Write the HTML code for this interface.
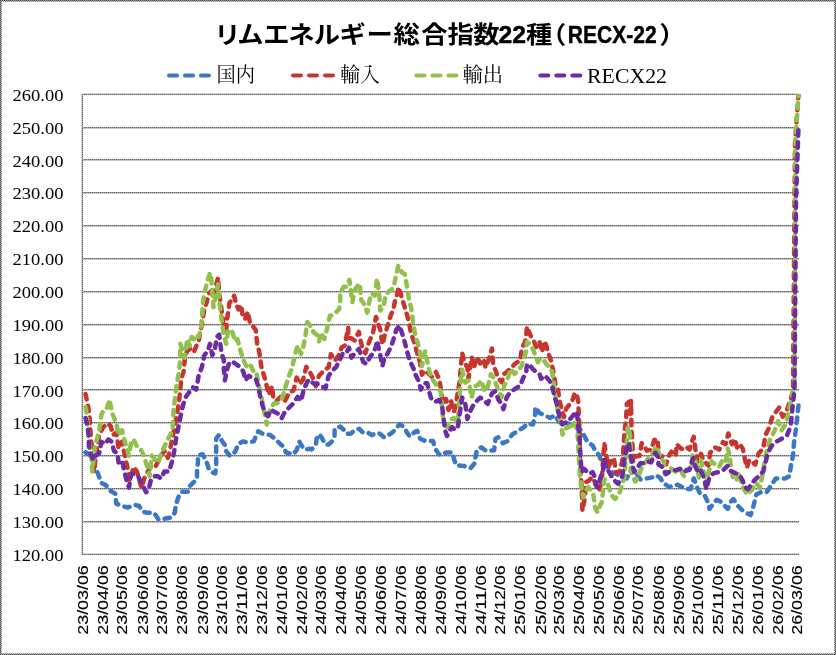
<!DOCTYPE html>
<html><head><meta charset="utf-8"><title>RECX-22</title><style>
html,body{margin:0;padding:0;background:#fff;}
svg{display:block;}
.g{stroke:#8a8a8a;stroke-width:1;}
.pb{fill:none;stroke:#777;stroke-width:1;}
.ob{fill:none;stroke:#7a7a7a;stroke-width:2;}
.yl{font-family:"Liberation Serif","Noto Serif CJK JP",serif;font-size:16.6px;text-anchor:end;fill:#000;}
.xl{font-family:"Liberation Sans","Noto Sans CJK JP",sans-serif;font-size:15.2px;text-anchor:end;fill:#000;stroke:#000;stroke-width:0.15px;}
.s{fill:none;stroke-width:4.5;stroke-dasharray:5.5 6.5;stroke-linecap:round;stroke-linejoin:round;}
.ld{stroke-width:4;stroke-dasharray:8 8;stroke-linecap:round;}
.lg{font-family:"Liberation Serif","Noto Serif CJK JP",serif;font-size:20px;fill:#000;}
.tt{font-family:"Liberation Sans","Noto Sans CJK JP",sans-serif;font-size:24px;font-weight:bold;fill:#000;}
.tl{font-family:"Liberation Sans","Noto Sans CJK JP",sans-serif;font-size:23.5px;font-weight:bold;fill:#000;stroke:#000;stroke-width:0.4px;}
</style></head><body>
<svg width="836" height="655" viewBox="0 0 836 655">
<rect x="0" y="0" width="836" height="655" fill="#fff"/>
<defs><pattern id="chk" width="2" height="2" patternUnits="userSpaceOnUse"><rect width="2" height="2" fill="#9a9a9a"/><rect width="1" height="1" fill="#4a4a4a"/><rect x="1" y="1" width="1" height="1" fill="#4a4a4a"/></pattern><pattern id="gdot" width="2" height="2" patternUnits="userSpaceOnUse"><rect width="2" height="2" fill="#a2a2a2"/><rect width="1" height="2" fill="#626262"/></pattern><pattern id="vdot" width="2" height="2" patternUnits="userSpaceOnUse"><rect width="2" height="2" fill="#a8a8a8"/><rect width="2" height="1" fill="#5a5a5a"/></pattern></defs>
<rect x="83" y="93" width="716" height="1" fill="#d6d6d6"/>
<rect x="83" y="94" width="716" height="1" fill="url(#gdot)"/>
<text x="63.5" y="100.80" class="yl" textLength="51" lengthAdjust="spacingAndGlyphs">260.00</text>
<rect x="83" y="127" width="716" height="1" fill="url(#gdot)"/>
<rect x="83" y="128" width="716" height="1" fill="#c8c8c8"/>
<text x="63.5" y="133.66" class="yl" textLength="51" lengthAdjust="spacingAndGlyphs">250.00</text>
<rect x="83" y="159" width="716" height="1" fill="url(#gdot)"/>
<rect x="83" y="160" width="716" height="1" fill="#c8c8c8"/>
<text x="63.5" y="166.51" class="yl" textLength="51" lengthAdjust="spacingAndGlyphs">240.00</text>
<rect x="83" y="192" width="716" height="1" fill="url(#gdot)"/>
<rect x="83" y="193" width="716" height="1" fill="#c8c8c8"/>
<text x="63.5" y="199.37" class="yl" textLength="51" lengthAdjust="spacingAndGlyphs">230.00</text>
<rect x="83" y="225" width="716" height="1" fill="url(#gdot)"/>
<rect x="83" y="226" width="716" height="1" fill="#c8c8c8"/>
<text x="63.5" y="232.23" class="yl" textLength="51" lengthAdjust="spacingAndGlyphs">220.00</text>
<rect x="83" y="258" width="716" height="1" fill="url(#gdot)"/>
<rect x="83" y="259" width="716" height="1" fill="#c8c8c8"/>
<text x="63.5" y="265.09" class="yl" textLength="51" lengthAdjust="spacingAndGlyphs">210.00</text>
<rect x="83" y="291" width="716" height="1" fill="url(#gdot)"/>
<rect x="83" y="292" width="716" height="1" fill="#c8c8c8"/>
<text x="63.5" y="297.94" class="yl" textLength="51" lengthAdjust="spacingAndGlyphs">200.00</text>
<rect x="83" y="324" width="716" height="1" fill="url(#gdot)"/>
<rect x="83" y="325" width="716" height="1" fill="#c8c8c8"/>
<text x="63.5" y="330.80" class="yl" textLength="51" lengthAdjust="spacingAndGlyphs">190.00</text>
<rect x="83" y="357" width="716" height="1" fill="url(#gdot)"/>
<rect x="83" y="358" width="716" height="1" fill="#c8c8c8"/>
<text x="63.5" y="363.66" class="yl" textLength="51" lengthAdjust="spacingAndGlyphs">180.00</text>
<rect x="83" y="389" width="716" height="1" fill="url(#gdot)"/>
<rect x="83" y="390" width="716" height="1" fill="#c8c8c8"/>
<text x="63.5" y="396.51" class="yl" textLength="51" lengthAdjust="spacingAndGlyphs">170.00</text>
<rect x="83" y="422" width="716" height="1" fill="url(#gdot)"/>
<rect x="83" y="423" width="716" height="1" fill="#c8c8c8"/>
<text x="63.5" y="429.37" class="yl" textLength="51" lengthAdjust="spacingAndGlyphs">160.00</text>
<rect x="83" y="455" width="716" height="1" fill="url(#gdot)"/>
<rect x="83" y="456" width="716" height="1" fill="#c8c8c8"/>
<text x="63.5" y="462.23" class="yl" textLength="51" lengthAdjust="spacingAndGlyphs">150.00</text>
<rect x="83" y="488" width="716" height="1" fill="url(#gdot)"/>
<rect x="83" y="489" width="716" height="1" fill="#c8c8c8"/>
<text x="63.5" y="495.09" class="yl" textLength="51" lengthAdjust="spacingAndGlyphs">140.00</text>
<rect x="83" y="521" width="716" height="1" fill="url(#gdot)"/>
<rect x="83" y="522" width="716" height="1" fill="#c8c8c8"/>
<text x="63.5" y="527.94" class="yl" textLength="51" lengthAdjust="spacingAndGlyphs">130.00</text>
<rect x="83" y="553" width="716" height="1" fill="#d6d6d6"/>
<rect x="83" y="554" width="716" height="1" fill="url(#gdot)"/>
<text x="63.5" y="560.80" class="yl" textLength="51" lengthAdjust="spacingAndGlyphs">120.00</text>
<rect x="81" y="94" width="1" height="461" fill="#d6d6d6"/><rect x="82" y="94" width="1" height="461" fill="url(#vdot)"/>
<text transform="translate(87.75,565.2) rotate(-90)" class="xl" textLength="69.5" lengthAdjust="spacingAndGlyphs">23/03/06</text>
<text transform="translate(107.94,565.2) rotate(-90)" class="xl" textLength="69.5" lengthAdjust="spacingAndGlyphs">23/04/06</text>
<text transform="translate(127.48,565.2) rotate(-90)" class="xl" textLength="69.5" lengthAdjust="spacingAndGlyphs">23/05/06</text>
<text transform="translate(147.67,565.2) rotate(-90)" class="xl" textLength="69.5" lengthAdjust="spacingAndGlyphs">23/06/06</text>
<text transform="translate(167.21,565.2) rotate(-90)" class="xl" textLength="69.5" lengthAdjust="spacingAndGlyphs">23/07/06</text>
<text transform="translate(187.40,565.2) rotate(-90)" class="xl" textLength="69.5" lengthAdjust="spacingAndGlyphs">23/08/06</text>
<text transform="translate(207.59,565.2) rotate(-90)" class="xl" textLength="69.5" lengthAdjust="spacingAndGlyphs">23/09/06</text>
<text transform="translate(227.13,565.2) rotate(-90)" class="xl" textLength="69.5" lengthAdjust="spacingAndGlyphs">23/10/06</text>
<text transform="translate(247.32,565.2) rotate(-90)" class="xl" textLength="69.5" lengthAdjust="spacingAndGlyphs">23/11/06</text>
<text transform="translate(266.86,565.2) rotate(-90)" class="xl" textLength="69.5" lengthAdjust="spacingAndGlyphs">23/12/06</text>
<text transform="translate(287.05,565.2) rotate(-90)" class="xl" textLength="69.5" lengthAdjust="spacingAndGlyphs">24/01/06</text>
<text transform="translate(307.24,565.2) rotate(-90)" class="xl" textLength="69.5" lengthAdjust="spacingAndGlyphs">24/02/06</text>
<text transform="translate(326.13,565.2) rotate(-90)" class="xl" textLength="69.5" lengthAdjust="spacingAndGlyphs">24/03/06</text>
<text transform="translate(346.32,565.2) rotate(-90)" class="xl" textLength="69.5" lengthAdjust="spacingAndGlyphs">24/04/06</text>
<text transform="translate(365.86,565.2) rotate(-90)" class="xl" textLength="69.5" lengthAdjust="spacingAndGlyphs">24/05/06</text>
<text transform="translate(386.05,565.2) rotate(-90)" class="xl" textLength="69.5" lengthAdjust="spacingAndGlyphs">24/06/06</text>
<text transform="translate(405.59,565.2) rotate(-90)" class="xl" textLength="69.5" lengthAdjust="spacingAndGlyphs">24/07/06</text>
<text transform="translate(425.79,565.2) rotate(-90)" class="xl" textLength="69.5" lengthAdjust="spacingAndGlyphs">24/08/06</text>
<text transform="translate(445.98,565.2) rotate(-90)" class="xl" textLength="69.5" lengthAdjust="spacingAndGlyphs">24/09/06</text>
<text transform="translate(465.52,565.2) rotate(-90)" class="xl" textLength="69.5" lengthAdjust="spacingAndGlyphs">24/10/06</text>
<text transform="translate(485.71,565.2) rotate(-90)" class="xl" textLength="69.5" lengthAdjust="spacingAndGlyphs">24/11/06</text>
<text transform="translate(505.25,565.2) rotate(-90)" class="xl" textLength="69.5" lengthAdjust="spacingAndGlyphs">24/12/06</text>
<text transform="translate(525.44,565.2) rotate(-90)" class="xl" textLength="69.5" lengthAdjust="spacingAndGlyphs">25/01/06</text>
<text transform="translate(545.63,565.2) rotate(-90)" class="xl" textLength="69.5" lengthAdjust="spacingAndGlyphs">25/02/06</text>
<text transform="translate(563.86,565.2) rotate(-90)" class="xl" textLength="69.5" lengthAdjust="spacingAndGlyphs">25/03/06</text>
<text transform="translate(584.06,565.2) rotate(-90)" class="xl" textLength="69.5" lengthAdjust="spacingAndGlyphs">25/04/06</text>
<text transform="translate(603.60,565.2) rotate(-90)" class="xl" textLength="69.5" lengthAdjust="spacingAndGlyphs">25/05/06</text>
<text transform="translate(623.79,565.2) rotate(-90)" class="xl" textLength="69.5" lengthAdjust="spacingAndGlyphs">25/06/06</text>
<text transform="translate(643.33,565.2) rotate(-90)" class="xl" textLength="69.5" lengthAdjust="spacingAndGlyphs">25/07/06</text>
<text transform="translate(663.52,565.2) rotate(-90)" class="xl" textLength="69.5" lengthAdjust="spacingAndGlyphs">25/08/06</text>
<text transform="translate(683.71,565.2) rotate(-90)" class="xl" textLength="69.5" lengthAdjust="spacingAndGlyphs">25/09/06</text>
<text transform="translate(703.25,565.2) rotate(-90)" class="xl" textLength="69.5" lengthAdjust="spacingAndGlyphs">25/10/06</text>
<text transform="translate(723.44,565.2) rotate(-90)" class="xl" textLength="69.5" lengthAdjust="spacingAndGlyphs">25/11/06</text>
<text transform="translate(742.98,565.2) rotate(-90)" class="xl" textLength="69.5" lengthAdjust="spacingAndGlyphs">25/12/06</text>
<text transform="translate(763.17,565.2) rotate(-90)" class="xl" textLength="69.5" lengthAdjust="spacingAndGlyphs">26/01/06</text>
<text transform="translate(783.36,565.2) rotate(-90)" class="xl" textLength="69.5" lengthAdjust="spacingAndGlyphs">26/02/06</text>
<text transform="translate(801.60,565.2) rotate(-90)" class="xl" textLength="69.5" lengthAdjust="spacingAndGlyphs">26/03/06</text>
<clipPath id="pc"><rect x="80" y="94" width="724" height="462"/></clipPath><g clip-path="url(#pc)">
<path d="M85.5,452.3 L90.0,455.0 L96.9,470.5 L98.0,474.0 L101.5,483.0 L106.0,485.3 L110.6,491.0 L115.2,493.4 L116.3,503.7 L122.0,506.0 L127.8,507.5 L134.7,504.8 L139.2,506.0 L142.7,511.7 L147.3,512.8 L154.1,512.8 L158.7,519.7 L165.6,518.5 L171.3,517.4 L174.7,512.8 L175.9,504.8 L179.3,494.5 L181.4,491.7 L187.8,491.7 L189.7,486.2 L193.3,482.6 L197.0,478.9 L197.0,471.6 L197.9,462.4 L197.9,455.1 L202.5,454.2 L206.1,460.6 L208.0,466.1 L208.9,469.7 L212.5,472.5 L215.3,473.4 L216.2,464.2 L216.2,456.9 L216.2,447.8 L216.2,438.6 L219.0,434.9 L221.7,440.4 L225.4,445.9 L226.3,451.4 L230.0,456.0 L233.6,453.3 L235.4,451.4 L238.2,444.1 L242.8,441.4 L247.3,442.3 L253.8,441.4 L256.5,434.9 L258.3,431.3 L262.9,434.0 L270.2,434.9 L276.5,440.2 L280.8,444.5 L284.4,447.4 L285.8,452.4 L293.0,454.5 L296.6,450.2 L299.4,441.6 L300.9,444.5 L304.4,449.5 L309.5,448.8 L311.6,449.5 L315.9,444.5 L316.6,438.8 L319.5,434.4 L322.4,438.8 L325.3,444.5 L328.8,444.5 L331.7,441.6 L334.6,435.9 L334.6,428.7 L340.3,426.6 L343.9,430.1 L346.1,433.7 L350.4,433.7 L354.0,430.9 L359.0,428.7 L362.6,432.3 L367.6,432.3 L371.9,435.2 L376.2,433.0 L379.8,433.7 L384.1,437.3 L390.7,433.7 L395.0,430.1 L399.4,424.4 L403.7,426.6 L407.2,433.0 L410.1,436.6 L415.1,431.6 L417.3,430.9 L420.2,438.8 L425.2,440.9 L433.1,440.9 L434.5,447.4 L438.1,453.1 L440.3,455.3 L446.7,452.4 L452.5,452.4 L453.9,458.8 L456.1,465.3 L464.0,466.0 L470.4,468.2 L474.7,463.2 L475.4,457.4 L476.9,450.2 L481.2,447.4 L486.2,451.0 L494.1,450.2 L495.5,438.8 L498.4,437.3 L502.9,443.1 L507.9,441.0 L512.2,434.5 L518.0,430.9 L523.7,427.3 L527.3,423.7 L533.0,424.4 L535.2,414.4 L535.2,407.2 L539.5,413.0 L543.8,415.1 L550.3,418.0 L554.6,415.1 L558.9,421.6 L562.5,424.4 L566.8,423.0 L572.5,425.2 L577.4,425.1 L580.7,430.2 L584.9,436.9 L587.4,441.9 L592.5,445.3 L595.0,450.3 L599.2,455.3 L600.5,459.0 L606.0,466.0 L612.0,472.0 L618.0,475.0 L623.0,477.0 L626.7,478.5 L632.0,467.8 L637.4,475.3 L640.6,479.5 L646.0,478.5 L652.1,477.4 L656.4,475.2 L660.7,478.4 L662.8,482.7 L669.2,487.0 L673.5,485.9 L677.8,484.8 L682.0,487.0 L686.3,489.1 L690.6,489.1 L693.8,478.4 L697.0,487.0 L700.3,494.2 L704.9,496.1 L707.6,501.6 L709.5,508.9 L712.2,505.2 L716.8,499.7 L720.4,501.6 L724.1,505.2 L727.8,508.9 L731.1,501.4 L733.4,499.1 L738.0,505.9 L742.6,510.5 L746.0,512.8 L750.6,515.1 L752.9,508.2 L756.3,494.5 L760.9,492.2 L766.6,492.2 L771.2,485.3 L775.8,478.5 L780.4,478.5 L785.0,478.5 L789.5,476.2 L790.7,467.0 L793.0,455.6 L794.1,441.8 L796.4,425.8 L798.5,405.0" class="s" stroke="#3a78c6"/>
<path d="M85.5,394.0 L88.2,407.0 L89.6,416.6 L91.0,440.0 L93.4,455.6 L94.0,471.6 L96.0,455.0 L99.2,435.0 L102.6,428.0 L107.2,423.5 L110.6,425.8 L113.0,435.0 L116.3,432.7 L118.6,448.7 L122.0,441.8 L124.4,453.3 L127.8,469.3 L130.0,480.8 L133.5,467.0 L137.0,471.6 L141.5,487.6 L145.0,476.2 L150.7,467.0 L155.3,467.0 L161.0,455.6 L164.4,451.0 L167.9,457.9 L170.2,448.7 L173.6,432.7 L174.7,425.8 L177.0,414.3 L179.2,400.0 L181.4,378.1 L183.7,371.3 L184.9,357.6 L187.2,350.7 L190.6,348.4 L194.0,351.8 L196.3,346.1 L198.6,341.5 L202.0,323.2 L204.3,309.5 L206.6,302.6 L208.9,293.5 L211.2,291.2 L213.5,298.0 L215.8,286.6 L218.1,277.5 L219.2,293.5 L221.5,309.5 L223.8,325.5 L226.1,330.1 L227.2,318.6 L229.5,302.6 L231.8,300.3 L234.1,295.8 L236.4,304.9 L238.6,309.5 L240.9,304.9 L243.2,318.6 L245.5,318.6 L247.8,311.8 L250.1,323.2 L252.4,325.5 L255.8,330.1 L257.1,343.4 L259.3,352.0 L261.4,366.9 L264.6,377.6 L266.8,386.2 L268.9,394.7 L272.1,386.2 L273.2,396.8 L276.4,401.1 L280.6,396.8 L284.9,401.1 L289.2,392.6 L293.5,390.4 L296.7,377.6 L299.9,384.0 L303.1,379.7 L306.3,366.9 L309.5,371.2 L312.7,377.6 L315.9,386.2 L319.1,375.5 L323.4,371.2 L328.7,366.9 L330.9,354.1 L335.1,360.5 L339.4,354.1 L341.5,347.7 L344.7,345.6 L348.2,327.6 L348.2,338.3 L351.4,338.3 L354.6,340.5 L358.9,331.9 L360.0,338.3 L362.1,346.9 L365.3,353.3 L369.6,340.5 L372.8,334.0 L376.0,317.0 L378.1,323.4 L380.3,329.8 L382.4,344.7 L384.5,336.2 L387.7,325.5 L390.9,314.8 L393.1,310.6 L395.2,299.9 L397.4,293.5 L398.4,287.1 L400.6,293.5 L403.8,304.1 L407.0,314.8 L409.1,323.4 L411.2,334.0 L414.4,342.6 L416.6,351.2 L419.8,361.8 L421.9,374.7 L425.1,370.4 L429.0,374.0 L432.0,377.0 L436.0,372.0 L439.6,380.5 L441.8,396.0 L443.5,404.0 L446.0,399.0 L448.5,410.0 L451.0,401.0 L454.0,412.0 L456.0,404.0 L457.5,394.0 L459.0,386.0 L459.9,378.4 L462.1,352.7 L464.2,361.3 L467.4,367.7 L468.5,378.4 L471.7,357.0 L473.8,367.7 L477.0,357.0 L480.2,363.4 L483.4,359.1 L485.6,367.7 L488.8,359.1 L492.0,348.5 L493.0,363.4 L495.2,369.8 L498.4,378.4 L501.7,382.2 L504.2,373.8 L506.7,372.1 L510.1,368.8 L515.1,363.7 L520.2,360.4 L521.8,348.6 L524.3,343.6 L526.0,338.5 L526.9,326.8 L531.1,336.9 L533.6,340.2 L536.1,346.9 L539.5,341.9 L542.0,352.0 L544.5,341.1 L546.2,345.3 L547.9,352.0 L550.4,358.7 L552.1,365.4 L553.7,373.8 L555.4,383.9 L557.9,388.9 L559.6,400.7 L562.1,410.8 L563.9,417.3 L566.1,408.7 L569.6,404.4 L572.5,400.0 L574.7,392.9 L576.8,394.3 L578.2,401.5 L579.0,418.7 L579.7,433.1 L579.7,447.4 L580.4,469.7 L581.6,485.6 L582.4,510.8 L584.9,497.3 L585.8,482.2 L589.1,480.5 L591.6,477.2 L594.2,480.5 L596.7,487.2 L599.2,490.6 L601.7,480.5 L603.2,458.0 L604.3,443.0 L605.5,452.0 L608.5,467.0 L611.0,461.0 L613.9,458.0 L616.0,473.0 L619.2,472.0 L622.4,461.0 L623.5,447.0 L624.6,431.0 L626.2,418.0 L626.7,404.0 L629.0,402.0 L630.4,414.0 L631.0,401.0 L631.5,430.0 L632.5,445.0 L633.1,462.0 L636.0,456.0 L639.5,456.0 L641.7,443.2 L644.9,447.5 L647.0,450.7 L651.1,449.6 L654.3,440.0 L657.5,438.9 L658.0,446.4 L659.6,457.0 L661.8,456.0 L663.9,459.2 L666.0,464.5 L668.2,457.0 L671.4,451.7 L673.5,453.8 L675.6,456.0 L676.7,444.2 L678.8,446.4 L681.0,448.5 L684.2,449.6 L686.9,447.4 L689.5,449.6 L691.7,442.1 L693.8,436.8 L694.9,445.3 L695.9,453.8 L698.1,461.3 L701.0,453.8 L703.2,460.3 L708.5,465.6 L710.1,452.8 L715.0,447.4 L719.2,449.6 L723.0,442.1 L725.6,444.2 L728.3,433.5 L732.0,444.2 L734.7,438.9 L737.4,448.5 L740.6,445.3 L742.7,448.5 L744.9,459.2 L747.0,467.7 L749.1,460.3 L750.6,460.1 L755.2,464.7 L758.6,453.3 L763.2,448.7 L765.5,435.0 L768.9,428.1 L772.4,416.6 L775.8,412.1 L779.2,407.5 L782.7,416.6 L786.1,412.1 L789.5,402.9 L793.0,391.4 L795.0,143.0 L798.5,94.0" class="s" stroke="#c8352f"/>
<path d="M85.5,407.0 L86.9,415.2 L88.9,441.8 L91.2,455.6 L92.3,471.6 L94.6,448.7 L99.2,430.4 L101.5,414.3 L103.8,409.8 L107.2,407.5 L109.5,399.5 L111.8,412.0 L116.3,423.5 L118.6,435.0 L122.0,430.4 L125.5,444.0 L129.0,455.6 L131.2,441.8 L133.5,439.5 L137.0,446.4 L140.4,448.7 L143.8,455.6 L147.3,467.0 L149.6,476.2 L151.8,455.6 L155.3,460.0 L158.7,462.4 L161.0,453.3 L164.4,446.4 L169.0,437.2 L172.5,430.4 L173.6,409.8 L174.7,400.6 L176.9,382.7 L179.2,371.3 L180.3,357.6 L180.3,343.8 L182.6,350.7 L184.9,357.6 L187.2,339.2 L189.5,346.1 L191.7,337.0 L194.0,339.2 L196.3,334.7 L198.6,337.0 L200.9,330.1 L202.0,316.4 L203.2,300.3 L205.5,288.9 L207.8,279.7 L210.0,272.9 L211.2,277.5 L212.3,293.5 L213.5,307.2 L215.8,295.8 L218.1,284.3 L219.2,300.3 L221.5,318.6 L223.8,334.7 L226.1,343.8 L228.4,330.1 L231.8,330.1 L235.2,341.5 L237.5,339.2 L239.8,348.4 L243.2,359.8 L246.7,366.7 L250.1,364.4 L253.5,371.3 L256.1,371.2 L258.2,381.9 L261.4,396.8 L264.6,413.9 L266.8,424.6 L270.0,409.7 L274.2,403.2 L277.4,403.2 L281.7,399.0 L283.8,392.6 L287.1,381.9 L289.2,375.5 L292.4,366.9 L294.5,356.2 L297.7,345.6 L300.9,354.1 L303.1,347.7 L305.2,337.0 L307.4,322.1 L310.6,326.3 L313.8,332.7 L317.0,334.9 L319.1,341.3 L321.2,332.7 L324.4,339.1 L326.6,330.6 L329.9,315.8 L333.7,315.0 L339.1,308.9 L340.2,300.5 L340.2,292.9 L343.7,286.8 L346.7,286.8 L349.4,279.9 L350.5,287.6 L351.3,296.0 L352.4,302.1 L354.4,290.6 L357.4,286.0 L359.7,283.7 L361.2,299.8 L364.3,304.4 L367.4,312.7 L369.6,299.9 L371.7,293.5 L374.9,295.6 L377.0,278.5 L379.2,293.5 L380.3,310.6 L383.5,306.3 L385.6,295.6 L388.8,291.3 L392.0,289.2 L394.1,284.9 L396.3,274.2 L398.4,265.7 L401.6,272.1 L404.8,274.2 L407.0,287.1 L409.1,299.9 L411.2,308.4 L413.4,325.5 L415.5,336.2 L417.6,342.6 L419.8,351.2 L421.9,366.1 L425.1,351.2 L427.3,361.8 L429.5,372.0 L433.0,380.0 L437.0,386.0 L441.0,392.0 L442.5,414.0 L444.5,424.0 L447.0,427.0 L450.0,420.0 L454.0,418.0 L458.0,422.0 L459.0,405.0 L460.0,390.0 L461.0,378.0 L462.1,369.8 L465.3,382.6 L468.5,380.5 L471.7,397.6 L473.8,386.9 L478.1,384.8 L481.3,380.5 L484.5,391.2 L487.7,386.9 L490.9,374.1 L494.1,378.4 L498.4,391.2 L501.7,397.3 L504.2,385.6 L507.6,378.8 L510.9,368.8 L514.3,373.8 L518.5,370.5 L521.8,365.4 L523.5,358.7 L526.0,352.0 L526.9,341.9 L529.4,343.6 L532.7,348.6 L535.3,355.3 L537.8,362.1 L540.3,358.7 L543.7,360.4 L546.2,363.7 L549.5,367.1 L552.1,372.1 L553.7,382.2 L554.6,392.3 L556.3,400.7 L558.2,414.4 L561.0,423.0 L562.5,434.5 L565.3,428.8 L568.2,427.3 L571.1,425.9 L573.2,421.6 L575.4,425.9 L577.5,430.2 L579.0,460.4 L579.9,477.2 L581.6,488.9 L583.2,497.3 L585.8,490.6 L588.3,487.2 L590.8,490.6 L593.3,494.0 L595.0,507.4 L597.5,512.4 L599.2,507.4 L601.7,502.4 L603.2,490.0 L604.3,479.0 L607.5,482.7 L610.7,493.0 L613.0,497.0 L615.0,499.0 L619.2,494.0 L622.4,484.0 L624.6,475.3 L626.5,452.0 L627.5,428.0 L629.0,427.0 L630.5,440.0 L631.0,472.0 L635.3,481.7 L638.5,476.3 L642.2,466.0 L645.6,462.0 L648.9,457.2 L650.5,456.0 L656.4,446.4 L658.5,451.7 L660.7,459.2 L663.9,461.3 L665.0,474.1 L668.2,469.9 L670.3,467.7 L674.6,471.0 L677.8,473.1 L681.0,471.0 L684.2,476.3 L687.4,469.9 L691.1,466.7 L692.7,454.9 L694.9,460.3 L697.0,465.6 L699.1,478.4 L701.0,460.3 L703.2,467.7 L705.3,484.8 L709.6,468.8 L711.8,461.3 L716.0,465.6 L719.2,466.7 L722.4,460.3 L725.6,462.4 L727.8,448.5 L729.9,457.0 L731.0,467.7 L733.1,478.4 L736.3,480.6 L739.5,472.0 L741.7,484.8 L744.5,490.0 L747.2,494.5 L751.8,489.9 L756.3,483.0 L759.8,487.6 L763.2,471.6 L765.5,455.6 L770.1,439.5 L774.7,430.4 L778.1,421.2 L781.5,430.4 L786.1,423.5 L788.4,412.1 L790.7,402.9 L793.0,391.4 L794.5,380.0 L795.5,140.0 L798.5,94.0" class="s" stroke="#92c04c"/>
<path d="M85.5,418.0 L87.6,426.2 L88.9,437.2 L88.9,446.4 L91.2,455.6 L93.4,460.1 L95.7,455.6 L99.2,453.3 L101.5,441.8 L104.9,444.1 L108.3,439.5 L111.8,441.8 L114.0,451.0 L117.5,453.3 L118.6,462.4 L122.0,460.1 L124.4,471.6 L126.7,480.8 L129.0,487.6 L131.2,473.9 L134.7,473.9 L138.1,476.2 L140.4,480.8 L142.7,485.3 L146.1,492.2 L148.4,489.9 L150.7,480.8 L154.1,476.2 L157.6,476.2 L161.0,478.5 L164.4,471.6 L169.0,471.6 L172.5,460.1 L174.7,448.7 L175.9,439.5 L178.2,428.1 L180.5,416.6 L183.0,405.0 L186.0,396.5 L189.5,391.9 L192.9,387.3 L196.3,389.6 L198.6,375.9 L202.0,366.7 L204.3,355.3 L207.8,350.7 L210.0,343.8 L212.3,355.3 L214.6,350.7 L216.9,337.0 L219.2,334.7 L220.3,343.8 L221.5,353.0 L223.8,359.8 L223.8,369.0 L224.9,380.4 L227.2,369.0 L229.5,362.1 L232.9,362.1 L236.4,364.4 L239.8,366.7 L243.2,371.3 L245.5,380.4 L248.9,375.9 L252.4,378.1 L256.1,379.7 L258.2,386.2 L260.3,396.8 L262.5,405.4 L264.6,411.8 L267.8,416.1 L271.0,409.7 L274.2,411.8 L278.5,413.9 L281.7,418.2 L284.9,411.8 L289.2,407.5 L293.5,403.2 L297.7,396.8 L300.9,401.1 L304.1,388.3 L308.4,379.7 L311.6,381.9 L314.8,384.0 L318.0,384.0 L321.2,386.2 L325.5,388.3 L328.7,375.5 L331.9,371.2 L336.2,366.9 L339.4,360.5 L342.6,354.1 L345.8,354.1 L349.0,347.7 L351.4,357.6 L354.6,353.3 L358.9,349.0 L363.2,361.8 L366.4,364.0 L369.6,357.6 L372.8,353.3 L376.0,346.9 L377.0,340.5 L380.3,355.3 L382.4,366.1 L384.5,357.6 L387.7,353.3 L390.9,346.9 L393.1,340.5 L396.3,329.8 L399.5,325.5 L401.6,331.9 L403.8,338.3 L407.0,351.2 L410.2,361.8 L413.4,368.2 L415.5,374.7 L418.7,381.1 L420.9,389.6 L424.1,383.2 L427.3,383.2 L428.5,389.0 L431.0,398.0 L435.0,402.0 L439.0,400.0 L442.0,405.0 L443.5,418.0 L445.0,430.0 L447.0,436.0 L449.5,431.0 L452.0,427.0 L455.0,430.0 L458.0,426.0 L460.0,412.0 L462.1,397.6 L465.3,404.0 L467.4,419.0 L470.6,410.4 L472.7,406.2 L475.9,401.9 L480.2,397.6 L483.4,399.7 L487.7,404.0 L492.0,393.3 L495.2,391.2 L498.4,399.7 L501.7,404.0 L503.4,409.1 L506.7,397.3 L510.1,392.3 L515.1,388.9 L520.2,385.6 L523.5,377.2 L526.0,373.8 L526.9,365.4 L528.5,363.7 L532.7,368.8 L536.1,372.1 L539.5,373.8 L541.1,378.8 L544.5,375.5 L547.9,378.8 L550.4,382.2 L552.9,388.9 L554.6,397.3 L556.3,402.4 L558.2,410.1 L559.6,418.7 L562.5,424.4 L566.8,421.6 L570.4,418.7 L574.0,414.4 L576.8,411.5 L578.2,425.9 L579.7,440.2 L580.4,454.6 L581.6,472.1 L584.1,468.8 L587.4,472.1 L590.0,473.8 L592.5,472.1 L594.2,475.5 L595.8,483.9 L597.5,487.2 L601.7,473.8 L603.2,470.0 L604.3,459.0 L606.0,468.0 L608.5,471.0 L612.8,478.5 L616.0,482.0 L618.2,483.8 L622.4,476.0 L624.6,458.0 L626.5,448.0 L628.8,443.0 L631.0,458.0 L634.2,472.0 L637.0,468.0 L640.6,463.0 L644.9,463.5 L648.1,461.4 L651.1,462.4 L655.3,452.8 L658.0,457.0 L658.5,464.5 L661.8,466.7 L666.0,474.1 L669.2,472.0 L672.4,470.9 L676.7,469.9 L679.9,468.8 L684.2,472.0 L686.9,469.9 L689.5,469.9 L691.7,462.4 L693.3,458.1 L694.9,465.6 L697.0,469.9 L699.1,473.1 L701.0,471.0 L704.3,478.4 L706.4,489.1 L709.6,476.3 L713.9,473.1 L719.2,472.0 L723.5,469.9 L727.8,465.6 L731.0,471.0 L735.3,473.1 L739.5,475.2 L742.2,479.5 L744.9,487.0 L748.0,489.1 L754.0,480.8 L758.6,476.2 L763.2,471.6 L765.5,462.4 L767.8,453.3 L771.2,446.4 L775.8,441.8 L780.4,439.5 L783.8,437.2 L787.2,435.0 L790.7,425.8 L793.0,402.9 L794.5,390.0 L796.0,200.0 L798.5,127.0" class="s" stroke="#6c2ca4"/>
</g>
<line x1="169" y1="75.4" x2="209" y2="75.4" class="ld" stroke="#3a78c6"/>
<text x="216.5" y="81.5" class="lg" textLength="38.5" lengthAdjust="spacingAndGlyphs">国内</text>
<line x1="293" y1="75.4" x2="333" y2="75.4" class="ld" stroke="#c8352f"/>
<text x="340" y="81.5" class="lg" textLength="40" lengthAdjust="spacingAndGlyphs">輸入</text>
<line x1="416.4" y1="75.4" x2="456.4" y2="75.4" class="ld" stroke="#92c04c"/>
<text x="462.5" y="81.5" class="lg" textLength="40.5" lengthAdjust="spacingAndGlyphs">輸出</text>
<line x1="540.3" y1="75.4" x2="580.3" y2="75.4" class="ld" stroke="#6c2ca4"/>
<text x="587" y="82.6" class="lg" textLength="80" lengthAdjust="spacingAndGlyphs">RECX22</text>
<text transform="translate(214.24,43.3) scale(1.097,1)" class="tt">リ</text>
<text transform="translate(237.37,43.3) scale(1.097,1)" class="tt">ム</text>
<text transform="translate(263.27,43.3) scale(1.097,1)" class="tt">エ</text>
<text transform="translate(288.27,43.3) scale(1.097,1)" class="tt">ネ</text>
<text transform="translate(313.87,43.3) scale(1.097,1)" class="tt">ル</text>
<text transform="translate(339.57,43.3) scale(1.097,1)" class="tt">ギ</text>
<text transform="translate(366.57,43.3) scale(1.097,1)" class="tt">ー</text>
<text transform="translate(393.49,43.3) scale(1.097,1)" class="tt">総</text>
<text transform="translate(421.19,43.3) scale(1.097,1)" class="tt">合</text>
<text transform="translate(447.39,43.3) scale(1.097,1)" class="tt">指</text>
<text transform="translate(473.29,43.3) scale(1.097,1)" class="tt">数</text>
<text transform="translate(526.09,43.3) scale(1.097,1)" class="tt">種</text>
<text transform="translate(539.99,43.3) scale(1.097,1)" class="tt">（</text>
<text transform="translate(659.27,43.3) scale(1.097,1)" class="tt">）</text>
<text x="498.6" y="43" class="tl" textLength="27.5" lengthAdjust="spacingAndGlyphs">22</text>
<text x="567.8" y="43" class="tl" textLength="89" lengthAdjust="spacingAndGlyphs">RECX-22</text>
<defs><pattern id="chk2" width="2" height="2" patternUnits="userSpaceOnUse"><rect width="2" height="2" fill="#d2d2d2"/><rect width="1" height="1" fill="#8c8c8c"/><rect x="1" y="1" width="1" height="1" fill="#8c8c8c"/></pattern></defs>
<rect x="1" y="1" width="834" height="1" fill="url(#chk2)"/><rect x="1" y="653" width="834" height="1" fill="url(#chk2)"/><rect x="1" y="1" width="1" height="653" fill="url(#chk2)"/><rect x="834" y="1" width="1" height="653" fill="url(#chk2)"/>
<rect x="0" y="0" width="836" height="1" fill="url(#chk)"/><rect x="0" y="654" width="836" height="1" fill="url(#chk)"/><rect x="0" y="0" width="1" height="655" fill="url(#chk)"/><rect x="835" y="0" width="1" height="655" fill="url(#chk)"/>
</svg>
</body></html>
